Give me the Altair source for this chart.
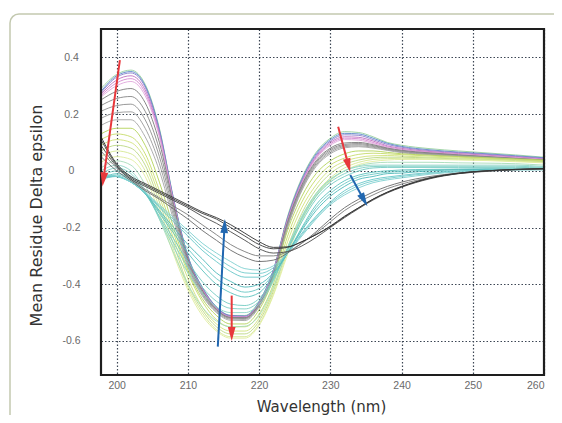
import math
import altair as alt
import pandas as pd

# ---------------- data ----------------
wavelength = [197.8, 200, 202, 204, 206, 208, 210, 212, 214, 216, 218, 220, 222, 224,
              226, 228, 230, 232, 234, 236, 238, 240, 244, 248, 252, 256, 260]

# helical start (blue / violet / magenta)
A1 = [0.29, 0.34, 0.355, 0.305, 0.15, -0.10, -0.30, -0.41, -0.48, -0.51, -0.51, -0.46, -0.35, -0.16, -0.025, 0.065, 0.115, 0.138, 0.135, 0.12, 0.10, 0.09, 0.078, 0.07, 0.063, 0.056, 0.048]
A2 = [0.28, 0.335, 0.35, 0.30, 0.145, -0.10, -0.30, -0.41, -0.48, -0.51, -0.512, -0.462, -0.35, -0.165, -0.03, 0.06, 0.11, 0.132, 0.13, 0.115, 0.097, 0.086, 0.074, 0.066, 0.06, 0.053, 0.046]
A3 = [0.275, 0.33, 0.345, 0.295, 0.14, -0.105, -0.305, -0.413, -0.482, -0.512, -0.513, -0.464, -0.352, -0.168, -0.034, 0.055, 0.105, 0.127, 0.125, 0.11, 0.093, 0.083, 0.071, 0.064, 0.058, 0.051, 0.044]
A4 = [0.27, 0.32, 0.335, 0.285, 0.13, -0.11, -0.31, -0.415, -0.484, -0.514, -0.515, -0.466, -0.355, -0.172, -0.04, 0.05, 0.10, 0.12, 0.118, 0.105, 0.088, 0.079, 0.068, 0.061, 0.055, 0.049, 0.042]
A5 = [0.265, 0.31, 0.325, 0.275, 0.125, -0.112, -0.312, -0.417, -0.486, -0.515, -0.516, -0.468, -0.357, -0.175, -0.043, 0.046, 0.095, 0.115, 0.113, 0.10, 0.085, 0.076, 0.066, 0.059, 0.053, 0.047, 0.04]
A6 = [0.26, 0.30, 0.315, 0.265, 0.12, -0.115, -0.315, -0.42, -0.488, -0.516, -0.517, -0.47, -0.36, -0.178, -0.046, 0.042, 0.09, 0.11, 0.108, 0.096, 0.082, 0.073, 0.064, 0.057, 0.051, 0.045, 0.039]
# grey
B1 = [0.25, 0.28, 0.29, 0.24, 0.10, -0.12, -0.31, -0.42, -0.488, -0.517, -0.518, -0.47, -0.362, -0.18, -0.05, 0.035, 0.08, 0.098, 0.10, 0.092, 0.08, 0.072, 0.063, 0.056, 0.05, 0.044, 0.038]
B2 = [0.23, 0.255, 0.262, 0.21, 0.075, -0.13, -0.318, -0.425, -0.49, -0.518, -0.519, -0.472, -0.365, -0.185, -0.055, 0.03, 0.075, 0.093, 0.096, 0.089, 0.078, 0.07, 0.061, 0.055, 0.049, 0.043, 0.037]
B3 = [0.21, 0.23, 0.235, 0.18, 0.05, -0.145, -0.325, -0.43, -0.493, -0.52, -0.521, -0.474, -0.368, -0.19, -0.06, 0.025, 0.07, 0.089, 0.092, 0.086, 0.076, 0.068, 0.06, 0.054, 0.048, 0.042, 0.036]
B4 = [0.185, 0.205, 0.208, 0.15, 0.025, -0.16, -0.333, -0.435, -0.497, -0.523, -0.524, -0.477, -0.372, -0.195, -0.065, 0.02, 0.065, 0.085, 0.088, 0.083, 0.074, 0.066, 0.058, 0.052, 0.047, 0.041, 0.035]
B5 = [0.16, 0.18, 0.18, 0.12, 0.0, -0.175, -0.34, -0.44, -0.50, -0.527, -0.528, -0.48, -0.376, -0.20, -0.07, 0.015, 0.06, 0.081, 0.085, 0.08, 0.072, 0.064, 0.057, 0.051, 0.046, 0.04, 0.034]
# yellow-green
C1 = [0.13, 0.15, 0.15, 0.09, -0.04, -0.20, -0.35, -0.45, -0.51, -0.54, -0.54, -0.49, -0.38, -0.21, -0.09, -0.01, 0.035, 0.06, 0.07, 0.07, 0.065, 0.06, 0.055, 0.05, 0.046, 0.042, 0.038]
C2 = [0.11, 0.13, 0.12, 0.06, -0.07, -0.22, -0.36, -0.46, -0.525, -0.55, -0.55, -0.505, -0.40, -0.23, -0.11, -0.03, 0.02, 0.045, 0.058, 0.062, 0.06, 0.057, 0.052, 0.048, 0.044, 0.04, 0.036]
C3 = [0.09, 0.11, 0.10, 0.04, -0.09, -0.24, -0.38, -0.48, -0.54, -0.565, -0.565, -0.52, -0.415, -0.25, -0.13, -0.05, 0.005, 0.033, 0.047, 0.053, 0.054, 0.052, 0.048, 0.045, 0.042, 0.038, 0.034]
C4 = [0.07, 0.09, 0.08, 0.02, -0.11, -0.26, -0.40, -0.49, -0.55, -0.575, -0.575, -0.53, -0.425, -0.27, -0.15, -0.065, -0.01, 0.022, 0.038, 0.046, 0.048, 0.048, 0.045, 0.042, 0.04, 0.036, 0.032]
C5 = [0.05, 0.07, 0.06, 0.0, -0.13, -0.28, -0.41, -0.50, -0.56, -0.585, -0.585, -0.54, -0.435, -0.285, -0.165, -0.08, -0.025, 0.01, 0.03, 0.04, 0.043, 0.044, 0.042, 0.04, 0.038, 0.034, 0.03]
C6 = [0.03, 0.05, 0.04, -0.02, -0.15, -0.295, -0.42, -0.51, -0.565, -0.59, -0.59, -0.545, -0.44, -0.295, -0.175, -0.09, -0.035, 0.0, 0.022, 0.033, 0.038, 0.04, 0.04, 0.038, 0.036, 0.032, 0.028]
# teal
T0 = [0.01, 0.035, 0.02, -0.05, -0.17, -0.29, -0.40, -0.48, -0.53, -0.55, -0.548, -0.51, -0.41, -0.28, -0.165, -0.085, -0.032, 0.0, 0.018, 0.027, 0.03, 0.03, 0.03, 0.028, 0.027, 0.025, 0.02]
T1 = [0.0, 0.02, 0.0, -0.07, -0.17, -0.27, -0.36, -0.43, -0.48, -0.50, -0.50, -0.47, -0.39, -0.27, -0.16, -0.08, -0.03, 0.0, 0.015, 0.02, 0.02, 0.02, 0.02, 0.02, 0.02, 0.02, 0.015]
T1b = [-0.01, 0.01, -0.01, -0.075, -0.165, -0.255, -0.34, -0.41, -0.46, -0.485, -0.487, -0.46, -0.385, -0.275, -0.17, -0.09, -0.04, -0.01, 0.008, 0.015, 0.016, 0.016, 0.016, 0.016, 0.016, 0.016, 0.012]
T2 = [-0.02, 0.0, -0.02, -0.08, -0.16, -0.24, -0.32, -0.39, -0.44, -0.47, -0.475, -0.45, -0.38, -0.28, -0.18, -0.10, -0.05, -0.02, 0.0, 0.01, 0.012, 0.012, 0.012, 0.012, 0.012, 0.012, 0.01]
T3 = [-0.03, -0.01, -0.03, -0.08, -0.15, -0.22, -0.29, -0.35, -0.40, -0.43, -0.445, -0.43, -0.37, -0.29, -0.20, -0.12, -0.07, -0.035, -0.015, -0.005, 0.0, 0.003, 0.005, 0.006, 0.007, 0.007, 0.007]
T3b = [-0.03, -0.015, -0.035, -0.08, -0.145, -0.21, -0.275, -0.33, -0.38, -0.41, -0.428, -0.415, -0.365, -0.29, -0.205, -0.13, -0.08, -0.045, -0.022, -0.012, -0.005, -0.002, 0.003, 0.005, 0.006, 0.006, 0.006]
T4 = [-0.03, -0.02, -0.04, -0.08, -0.14, -0.20, -0.26, -0.31, -0.36, -0.39, -0.41, -0.40, -0.36, -0.29, -0.21, -0.14, -0.09, -0.055, -0.03, -0.02, -0.01, -0.008, 0.0, 0.003, 0.005, 0.005, 0.005]
T5 = [-0.02, -0.02, -0.04, -0.08, -0.13, -0.18, -0.23, -0.28, -0.32, -0.355, -0.375, -0.375, -0.35, -0.29, -0.22, -0.16, -0.11, -0.07, -0.045, -0.03, -0.022, -0.016, -0.006, 0.0, 0.003, 0.004, 0.004]
T5b = [-0.015, -0.02, -0.04, -0.078, -0.125, -0.172, -0.22, -0.268, -0.305, -0.338, -0.36, -0.362, -0.342, -0.29, -0.225, -0.165, -0.115, -0.078, -0.052, -0.036, -0.027, -0.02, -0.009, -0.002, 0.002, 0.004, 0.004]
T6 = [-0.01, -0.02, -0.04, -0.075, -0.12, -0.165, -0.21, -0.255, -0.29, -0.32, -0.345, -0.35, -0.335, -0.29, -0.23, -0.17, -0.12, -0.085, -0.06, -0.042, -0.032, -0.025, -0.012, -0.004, 0.0, 0.003, 0.004]
# dark grey / black end state
G1 = [0.05, 0.0, -0.035, -0.07, -0.10, -0.135, -0.17, -0.21, -0.245, -0.28, -0.305, -0.32, -0.315, -0.29, -0.255, -0.215, -0.17, -0.13, -0.10, -0.075, -0.055, -0.04, -0.02, -0.008, 0.0, 0.004, 0.006]
G2 = [0.07, 0.01, -0.03, -0.065, -0.095, -0.125, -0.155, -0.19, -0.225, -0.26, -0.285, -0.30, -0.30, -0.285, -0.255, -0.22, -0.18, -0.14, -0.11, -0.085, -0.063, -0.047, -0.024, -0.01, -0.002, 0.004, 0.007]
E1 = [0.11, 0.02, -0.025, -0.05, -0.075, -0.10, -0.125, -0.15, -0.17, -0.20, -0.23, -0.26, -0.275, -0.27, -0.25, -0.225, -0.195, -0.16, -0.13, -0.10, -0.075, -0.055, -0.025, -0.008, 0.0, 0.005, 0.008]
E2 = [0.09, 0.015, -0.03, -0.055, -0.08, -0.105, -0.13, -0.16, -0.185, -0.215, -0.245, -0.275, -0.29, -0.285, -0.265, -0.235, -0.20, -0.165, -0.133, -0.103, -0.078, -0.058, -0.028, -0.01, -0.001, 0.004, 0.007]
E3 = [0.12, 0.025, -0.02, -0.045, -0.07, -0.095, -0.12, -0.145, -0.165, -0.19, -0.22, -0.25, -0.27, -0.268, -0.25, -0.225, -0.197, -0.162, -0.13, -0.10, -0.076, -0.056, -0.026, -0.009, 0.0, 0.005, 0.008]

curves = [A1, A2, A3, A4, A5, A6, B1, B2, B3, B4, B5, C1, C2, C3, C4, C5, C6,
          T0, T1, T1b, T2, T3, T3b, T4, T5, T5b, T6, G1, G2, E1, E2, E3]
curve_colors = ["#96cf9c", "#5a88c8", "#8a80cc", "#c070c0", "#d58ad0", "#e0a6dc",
                "#7a7a7a", "#858585", "#8e8e8e", "#999999", "#a4a4a4",
                "#b4d35a", "#c6dc6a", "#d2e27c", "#bcd884", "#d6e892", "#e0ec9e",
                "#a6dcb8", "#8ed6c6", "#7ccfc4", "#72cbc2", "#5cc2be", "#6ac8c4", "#4fb9b9",
                "#66c6c8", "#74cccc", "#80d0d0",
                "#6a6a6a", "#7c7c7c", "#3c3c3c", "#4a4a4a", "#303030"]

x_ticks = [200, 210, 220, 230, 240, 250, 260]
y_ticks = [0.4, 0.2, 0, -0.2, -0.4, -0.6]

# arrows: (colour, tail wavelength, tail value, tip wavelength, tip value)
arrows = [
    ("red", 200.45, 0.39, 198.0, -0.055),
    ("red", 231.1, 0.155, 232.8, -0.005),
    ("blue", 232.8, -0.015, 235.2, -0.125),
    ("blue", 214.2, -0.62, 215.2, -0.17),
    ("red", 216.15, -0.44, 216.15, -0.60),
]
arrow_colors = {"red": "#e8383c", "blue": "#2167b0"}

# ---------------- build ----------------
W, H = 443, 346
XDOM = [197.8, 260]
YDOM = [-0.72, 0.5]
ppn = W / (XDOM[1] - XDOM[0])
ppu = H / (YDOM[1] - YDOM[0])

rows = []
ids = []
for i, c in enumerate(curves):
    cid = f"c{i:02d}"
    ids.append(cid)
    for w, v in zip(wavelength, c):
        rows.append({"wl": w, "val": v, "curve": cid})
df = pd.DataFrame(rows)

HEAD_LEN = 14
shaft_rows, head_rows = [], []
for col, x1, y1, x2, y2 in arrows:
    dx = (x2 - x1) * ppn
    dy = -(y2 - y1) * ppu
    L = math.hypot(dx, dy)
    ux, uy = dx / L, dy / L
    back = HEAD_LEN - 2
    shaft_rows.append({"x": x1, "y": y1, "x2": x2 - ux * back / ppn, "y2": y2 + uy * back / ppu, "col": col})
    ang = math.degrees(math.atan2(ux, -uy)) % 360
    c = HEAD_LEN / 2
    head_rows.append({"x": x2 - ux * c / ppn, "y": y2 + uy * c / ppu, "col": col, "ang": ang})
sdf = pd.DataFrame(shaft_rows)
hdf = pd.DataFrame(head_rows)

xs = alt.Scale(domain=XDOM, nice=False, zero=False)
ys = alt.Scale(domain=YDOM, nice=False, zero=False)

label_font = "Liberation Sans Narrow, Liberation Sans, sans-serif"
grid_kw = dict(gridDash=[1.5, 2], gridColor="#3c4654", gridWidth=1.2)

one = pd.DataFrame({"a": [0]})
box = alt.Chart(one).mark_rect(
    filled=False, stroke="#c3c9b0", strokeWidth=1.5, cornerRadius=9
).encode(x=alt.value(-91), x2=alt.value(470), y=alt.value(-15), y2=alt.value(404))

lines = alt.Chart(df).mark_line(interpolate="monotone", strokeWidth=1.0, opacity=0.9).encode(
    x=alt.X("wl:Q", scale=xs,
            axis=alt.Axis(values=x_ticks, format="d", grid=True, domain=False, ticks=False, tickSize=0,
                          labelPadding=5, labelFont=label_font, labelFontSize=10.5, labelColor="#6a6a6a",
                          title="Wavelength (nm)", titleFont="DejaVu Sans", titleFontSize=15,
                          titleFontWeight="normal", titleColor="#333", titleX=220, titleY=31,
                          titleBaseline="middle", titleAlign="center", **grid_kw)),
    y=alt.Y("val:Q", scale=ys,
            axis=alt.Axis(values=y_ticks, labelExpr="toString(round(datum.value*10)/10)", grid=True,
                          domain=False, ticks=False, tickSize=0, labelPadding=30, labelAlign="center",
                          labelBaseline="middle",
                          labelFont=label_font, labelFontSize=10.5, labelColor="#6a6a6a",
                          title="Mean Residue Delta epsilon", titleFont="DejaVu Sans", titleFontSize=16,
                          titleFontWeight="normal", titleColor="#333", titleAngle=270,
                          titleX=-65, titleY=186, titleBaseline="middle", titleAlign="center",
                          **grid_kw)),
    color=alt.Color("curve:N", scale=alt.Scale(domain=ids, range=curve_colors), legend=None),
    order=alt.Order("wl:Q"),
)

frame = alt.Chart(one).mark_rect(filled=False, stroke="#1e1e1e", strokeWidth=2.2).encode(
    x=alt.value(0), x2=alt.value(W), y=alt.value(0), y2=alt.value(H))

head_path = "M0,-1L0.55,1L-0.55,1Z"
arrow_layers = []
for name, c in arrow_colors.items():
    s = sdf[sdf["col"] == name]
    h = hdf[hdf["col"] == name]
    arrow_layers.append(alt.Chart(s).mark_rule(strokeWidth=2, color=c).encode(
        x=alt.X("x:Q", scale=xs), y=alt.Y("y:Q", scale=ys), x2="x2:Q", y2="y2:Q"))
    arrow_layers.append(alt.Chart(h).mark_point(shape=head_path, filled=True, size=HEAD_LEN ** 2,
                                                opacity=1, color=c, strokeWidth=0).encode(
        x=alt.X("x:Q", scale=xs), y=alt.Y("y:Q", scale=ys),
        angle=alt.Angle("ang:Q", scale=None)))

chart = alt.layer(box, lines, frame, *arrow_layers).properties(
    width=W, height=H,
    autosize=alt.AutoSizeParams(type="none"),
    padding={"left": 93, "top": 21, "right": 10, "bottom": 40},
).configure_view(strokeWidth=0).configure(background="white")

chart.save("out.html", embed_options={"renderer": "svg", "actions": False})
